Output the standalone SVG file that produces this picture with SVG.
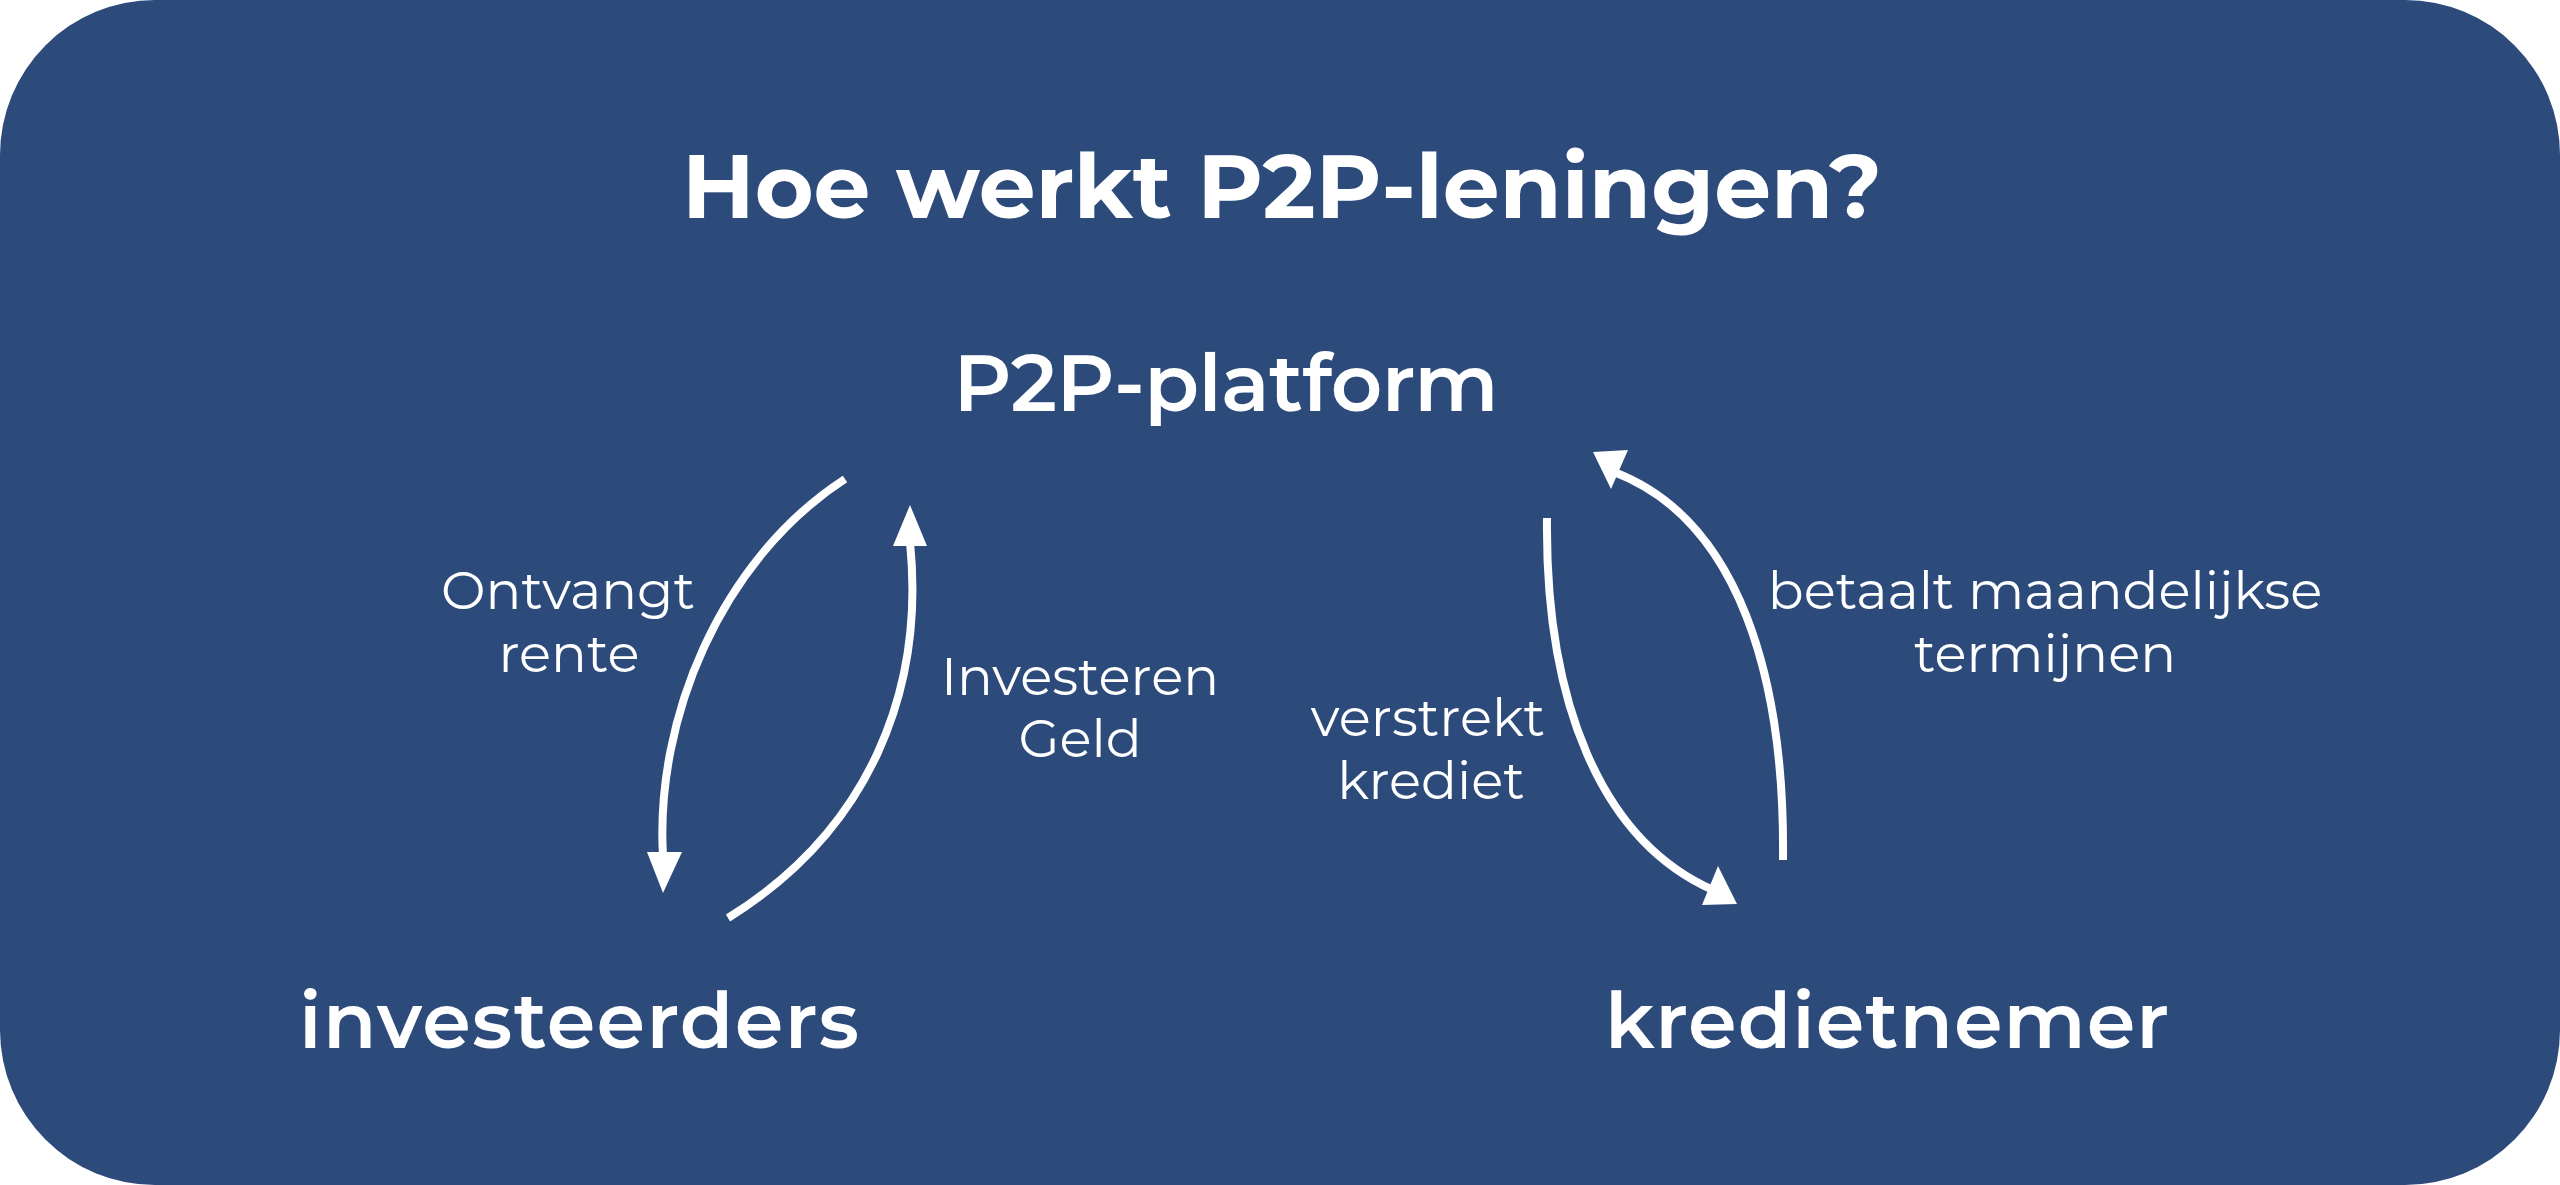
<svg xmlns="http://www.w3.org/2000/svg" width="2560" height="1185" viewBox="0 0 2560 1185">
<style>
.t{font-family:Montserrat,Inter,"Open Sans","Liberation Sans",sans-serif;fill:#fff;text-anchor:middle}
.title{font-size:90px;font-weight:700}
.node{font-size:78px;font-weight:600}
.nodem{font-size:80px;font-weight:600}
.lbl{font-size:53px;font-weight:400}
.c{fill:none;stroke:#fff;stroke-width:8}
.h{fill:#fff}
</style>
<rect x="0" y="0" width="2560" height="1185" fill="#fff"/>
<rect x="0" y="0" width="2560" height="1185" rx="155" ry="155" fill="#2c4a7a"/>
<g id="title"><text class="t title" x="1282" y="218" textLength="1200" lengthAdjust="spacing">Hoe werkt P2P-leningen?</text></g>
<g id="platform"><text class="t nodem" x="1226" y="411" textLength="545" lengthAdjust="spacing">P2P-platform</text></g>
<g id="investeerders"><text class="t node" x="579" y="1048" textLength="560" lengthAdjust="spacing">investeerders</text></g>
<g id="kredietnemer"><text class="t node" x="1887" y="1048" textLength="564" lengthAdjust="spacing">kredietnemer</text></g>
<g id="connectors">
<path class="c" d="M845,479 C720,560 655,720 663,856"/>
<polygon class="h" points="647,852 682,852 663,893"/>
<path class="c" d="M728,918 C870,830 925,690 910,542"/>
<polygon class="h" points="910,505 893,546 927,546"/>
<path class="c" d="M1547,518 C1545,700 1600,840 1713,890"/>
<polygon class="h" points="1718,866 1702,905 1737,904"/>
<path class="c" d="M1783,860 C1785,680 1740,520 1614,472"/>
<polygon class="h" points="1593,452 1628,450 1611,489"/>
</g>
<g id="labels">
<text class="t lbl" x="568" y="609">Ontvangt</text>
<text class="t lbl" x="569" y="672">rente</text>
<text class="t lbl" x="1080" y="695">Investeren</text>
<text class="t lbl" x="1080" y="757">Geld</text>
<text class="t lbl" x="1428" y="736">verstrekt</text>
<text class="t lbl" x="1431" y="799">krediet</text>
<text class="t lbl" x="2045" y="609">betaalt maandelijkse</text>
<text class="t lbl" x="2045" y="672">termijnen</text>
</g>
</svg>
